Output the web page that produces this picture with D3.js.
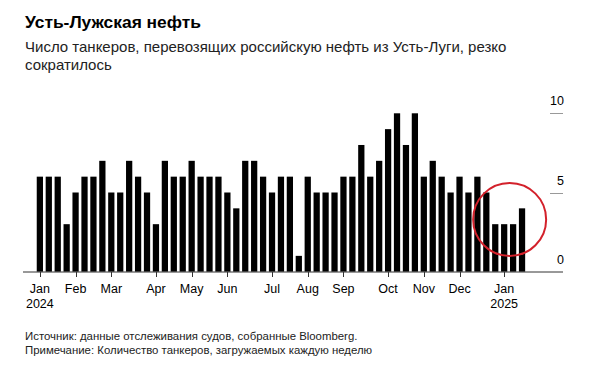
<!DOCTYPE html>
<html>
<head>
<meta charset="utf-8">
<script src="https://cdn.jsdelivr.net/npm/d3@7"></script>
<style>
  body { margin: 0; background: #fff; }
  svg { display: block; font-family: "Liberation Sans", Arial, sans-serif; }
</style>
</head>
<body>
<svg id="chart" width="592" height="369"></svg>
<script>
// weekly loadings, week ending Sunday, Jan 7 2024 .. Jan 19 2025
const firstWeek = new Date(Date.UTC(2024, 0, 7));
const lastWeek = new Date(Date.UTC(2025, 0, 19));
const tankers = [6, 6, 6, 3, 5, 6, 6, 7, 5, 5,
  7, 6, 5, 3, 7, 6, 6, 7, 6, 6,
  6, 5, 4, 7, 7, 6, 5, 6, 6, 1,
  6, 5, 5, 5, 6, 6, 8, 6, 7, 9,
  10, 8, 10, 6, 7, 6, 5, 6, 5, 6,
  5, 3, 3, 3, 4];
const yTicks = [0, 5, 10];
const monthNames = ["Jan", "Feb", "Mar", "Apr", "May", "Jun", "Jul", "Aug", "Sep", "Oct", "Nov", "Dec"];

const weeks = d3.utcWeek.range(firstWeek, d3.utcDay.offset(lastWeek, 1));
const data = weeks.map((d, i) => ({ date: d, value: tankers[i] }));

const svg = d3.select("#chart");

// titles
svg.append("text")
  .attr("x", 25).attr("y", 28)
  .style("font-size", "17.4px").style("font-weight", "bold").style("fill", "#000")
  .text("Усть-Лужская нефть");
svg.append("text")
  .attr("x", 25).attr("y", 52)
  .style("font-size", "15px").style("fill", "#222")
  .text("Число танкеров, перевозящих российскую нефть из Усть-Луги, резко");
svg.append("text")
  .attr("x", 25).attr("y", 70)
  .style("font-size", "15px").style("fill", "#222")
  .text("сократилось");

const x = d3.scaleBand()
  .domain(weeks.map(d => +d))
  .range([35.4, 526.5])
  .paddingInner(0.3)
  .paddingOuter(0.15);

const y = d3.scaleLinear().domain([0, 10]).range([271.7, 113.3]);

// y gridlines + labels on the right
const yg = svg.append("g");
yg.selectAll("line.grid")
  .data(yTicks.filter(d => d > 0))
  .join("line")
  .attr("class", "grid")
  .attr("x1", 550).attr("x2", 563)
  .attr("y1", d => Math.round(y(d)) + 0.5)
  .attr("y2", d => Math.round(y(d)) + 0.5)
  .style("stroke", "#999").style("stroke-width", 1);
yg.selectAll("text")
  .data(yTicks)
  .join("text")
  .attr("x", 564)
  .attr("y", d => y(d) - 8)
  .attr("text-anchor", "end")
  .style("font-size", "12.5px").style("fill", "#000")
  .text(d => d);

// bars
svg.append("g")
  .selectAll("rect")
  .data(data)
  .join("rect")
  .attr("x", d => x(+d.date))
  .attr("width", x.bandwidth())
  .attr("y", d => y(d.value))
  .attr("height", d => y(0) - y(d.value))
  .style("fill", "#000");

// baseline
svg.append("line")
  .attr("x1", 23).attr("x2", 563)
  .attr("y1", 272).attr("y2", 272)
  .style("stroke", "#333").style("stroke-width", 1);

// month ticks at the first week of each month
const monthWeeks = weeks.filter(d => d.getUTCDate() <= 7);
const xg = svg.append("g");
xg.selectAll("line")
  .data(monthWeeks)
  .join("line")
  .attr("x1", d => Math.round(x(+d) + x.bandwidth() / 2) + 0.5)
  .attr("x2", d => Math.round(x(+d) + x.bandwidth() / 2) + 0.5)
  .attr("y1", 272).attr("y2", 277)
  .style("stroke", "#333");
const lbl = xg.selectAll("text")
  .data(monthWeeks)
  .join("text")
  .attr("x", d => x(+d) + x.bandwidth() / 2)
  .attr("y", 293)
  .attr("text-anchor", "middle")
  .style("font-size", "12.5px").style("fill", "#000");
lbl.append("tspan").text(d => monthNames[d.getUTCMonth()]);
lbl.filter(d => d.getUTCMonth() === 0)
  .append("tspan")
  .attr("x", d => x(+d) + x.bandwidth() / 2)
  .attr("dy", 15)
  .text(d => d.getUTCFullYear());

// red annotation circle around the last weeks
const hl = data.slice(-4);
const cx = (x(+hl[0].date) + x(+hl[3].date) + x.bandwidth()) / 2;
svg.append("ellipse")
  .attr("cx", cx + 1)
  .attr("cy", y(3.3))
  .attr("rx", 36.5).attr("ry", 36.5)
  .style("fill", "none").style("stroke", "#d3212b").style("stroke-width", 2);

// footer
svg.append("text")
  .attr("x", 25).attr("y", 340)
  .style("font-size", "11.4px").style("fill", "#222")
  .text("Источник: данные отслеживания судов, собранные Bloomberg.");
svg.append("text")
  .attr("x", 25).attr("y", 354)
  .style("font-size", "11.4px").style("fill", "#222")
  .text("Примечание: Количество танкеров, загружаемых каждую неделю");
</script>
</body>
</html>
